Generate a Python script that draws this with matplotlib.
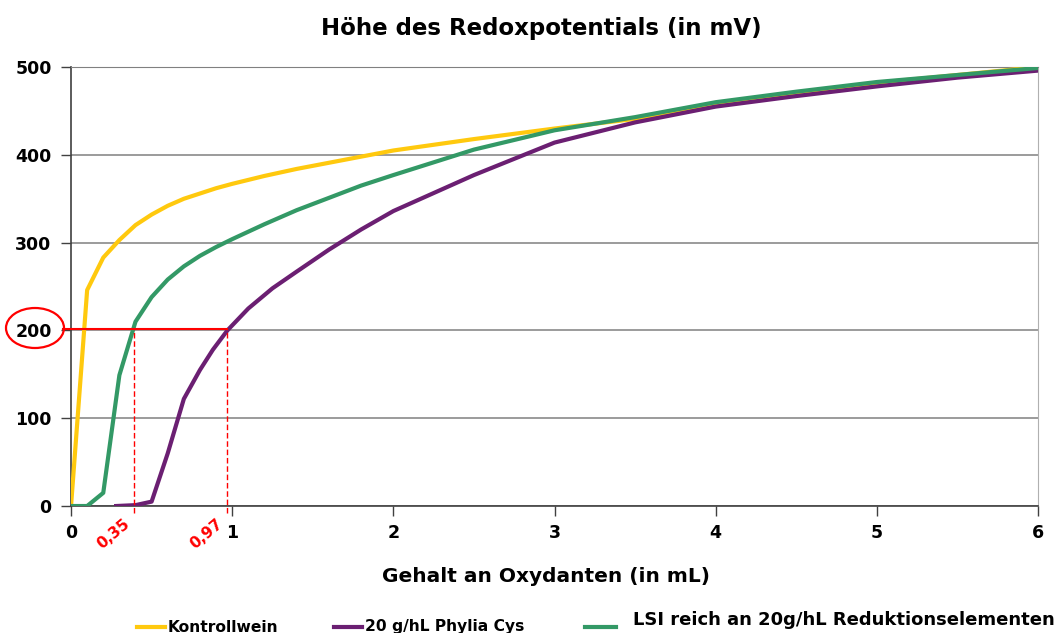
import matplotlib
matplotlib.use("Agg")
import matplotlib.pyplot as plt
from matplotlib.lines import Line2D
from matplotlib.patches import Ellipse
import numpy as np

# Werte
x_kontroll = [0, 0.1, 0.2, 0.3, 0.4, 0.5, 0.6, 0.7, 0.8, 0.9, 1.0, 1.2, 1.4, 1.6, 1.8,
              2.0, 2.5, 3.0, 3.5, 4.0, 4.5, 5.0, 5.5, 6.0]
y_kontroll = [0, 246, 283, 303, 320, 332, 342, 350, 356, 362, 367, 376, 384, 391, 398,
              405, 418, 430, 441, 458, 471, 482, 491, 500]

x_phylia = [0.28, 0.4, 0.5, 0.6, 0.7, 0.8, 0.88, 0.97, 1.1, 1.25, 1.4, 1.6, 1.8,
            2.0, 2.5, 3.0, 3.5, 4.0, 4.5, 5.0, 5.5, 6.0]
y_phylia = [0, 1, 5, 60, 122, 155, 178, 200, 225, 248, 267, 292, 315,
            336, 377, 414, 437, 455, 467, 478, 488, 496]

x_lsi = [0, 0.1, 0.2, 0.3, 0.4, 0.5, 0.6, 0.7, 0.8, 0.9, 1.0, 1.2, 1.4, 1.6, 1.8,
         2.0, 2.5, 3.0, 3.5, 4.0, 4.5, 5.0, 5.5, 6.0]
y_lsi = [0, 0, 15, 149, 210, 238, 258, 273, 285, 295, 304, 321, 337, 351, 365,
         377, 406, 428, 443, 460, 472, 483, 491, 499]

labels = ["Kontrollwein", "20 g/hL Phylia Cys", "LSI reich an 20g/hL Reduktionselementen"]
colors = ["#FFC90E", "#6B1F72", "#339966"]

mark_y = 202
mark_x = [0.39, 0.97]
mark_txt = ["0,35", "0,97"]

fig = plt.figure(figsize=(10.57, 6.33), dpi=100)
ax = fig.add_axes([0.0672, 0.2006, 0.9148, 0.6934])

ax.set_xlim(0, 6)
ax.set_ylim(0, 500)
ax.set_yticks(np.arange(0, 501, 100))
ax.set_xticks(np.arange(0, 7, 1))
ax.yaxis.grid(True, color="#808080", lw=1.1)
ax.set_axisbelow(True)

ax.plot(x_kontroll, y_kontroll, color=colors[0], lw=3, zorder=3)
ax.plot(x_phylia, y_phylia, color=colors[1], lw=3, zorder=4)
ax.plot(x_lsi, y_lsi, color=colors[2], lw=3, zorder=5)

for s in ["left", "bottom"]:
    ax.spines[s].set_color("#404040")
    ax.spines[s].set_linewidth(1.2)
ax.spines["top"].set_color("#808080")
ax.spines["right"].set_color("#b0b0b0")

ax.tick_params(axis="both", length=7, width=1, color="#404040", labelsize=12.5)
ax.tick_params(axis="y", pad=7)
ax.tick_params(axis="x", pad=6)
for t in ax.get_xticklabels() + ax.get_yticklabels():
    t.set_fontweight("bold")

# rote Markierung
ax.plot([-0.05, mark_x[1]], [mark_y, mark_y], color="red", lw=1.5, clip_on=False, zorder=6)
for mx, txt in zip(mark_x, mark_txt):
    ax.plot([mx, mx], [-8, mark_y], color="red", lw=1, ls=(0, (4, 2)),
            clip_on=False, zorder=6)
    ax.text(mx - 0.01, -11, txt, color="red", fontsize=11, fontweight="bold",
            rotation=40, ha="right", va="top")
fig.add_artist(Ellipse((35 / 1057, 1 - 328 / 633), 58 / 1057, 40 / 633,
                       transform=fig.transFigure, fill=False, ec="red", lw=1.6))

fig.text(0.512, 1 - 28 / 633, "Höhe des Redoxpotentials (in mV)",
         ha="center", va="center", fontsize=16.5, fontweight="bold")
fig.text(0.517, 1 - 576 / 633, "Gehalt an Oxydanten (in mL)",
         ha="center", va="center", fontsize=14.5, fontweight="bold")

# Legende unten
leg = [(137, 165, 168, 11.2), (334, 362, 365, 11.2), (585, 616, 633, 13)]
for (x0, x1, xt, fs), lab, col in zip(leg, labels, colors):
    yl = 1 - 627 / 633
    fig.add_artist(Line2D([x0 / 1057, x1 / 1057], [yl, yl], color=col, lw=3,
                          transform=fig.transFigure))
    fig.text(xt / 1057, 1 - (627 if fs < 12 else 620) / 633, lab,
             ha="left", va="center", fontsize=fs, fontweight="bold")

fig.savefig("out.png", dpi=100)
